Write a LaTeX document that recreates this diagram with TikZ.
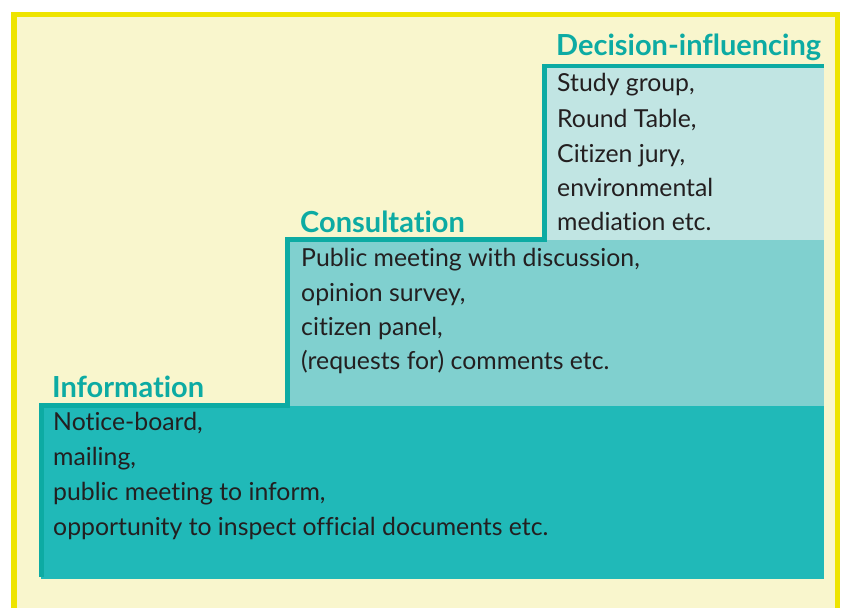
\documentclass[tikz,border=0pt]{standalone}
\usepackage{fontspec}
\setmainfont{Lato}[Ligatures=NoCommon]
\definecolor{paper}{HTML}{F9F6CD}
\definecolor{frameyellow}{HTML}{EEE400}
\definecolor{stepedge}{HTML}{0DABA3}
\definecolor{lightstep}{HTML}{C1E5E3}
\definecolor{midstep}{HTML}{80D0CF}
\definecolor{darkstep}{HTML}{20B9B8}
\definecolor{ink}{HTML}{231F20}
\tikzset{
  steptitle/.style={anchor=base west,inner sep=0pt,text=stepedge,font=\fontsize{29}{29}\selectfont\bfseries},
  stepline/.style={anchor=base west,inner sep=0pt,text=ink,font=\fontsize{24.8}{24.8}\selectfont}
}
\begin{document}
\begin{tikzpicture}[x=1pt,y=-1pt]
    \useasboundingbox (0,0) rectangle (842,607);
    \clip (0,0) rectangle (842,607);

    %% frame
    \fill[paper] (11,12) rectangle (840,640);
    \draw[frameyellow,line width=5.5pt] (13.75,14.75) rectangle (837.25,640);

    %% steps
    \fill[lightstep] (545,66) rectangle (824,240);
    \fill[midstep] (288,240) rectangle (824,406);
    \fill[darkstep] (41,406) rectangle (824,579);
    \draw[stepedge,line width=4.5pt]
      (41.5,577) -- (41.5,405.5) -- (287.5,405.5) -- (287.5,239.5)
      -- (544.5,239.5) -- (544.5,66) -- (824,66);

    %% titles
    \node[steptitle] (dectitle) at (556,56) {Decision-influencing};
    \node[steptitle] (contitle) at (300,232) {Consultation};
    \node[steptitle] (inftitle) at (52,397) {Information};

    %% decision-influencing
    \node[stepline] (dec1) at (557,92) {Study group,};
    \node[stepline] (dec2) at (557,127) {Round Table,};
    \node[stepline] (dec3) at (557,162) {Citizen jury,};
    \node[stepline] (dec4) at (557,196) {environmental};
    \node[stepline] (dec5) at (557,230) {mediation etc.};

    %% consultation
    \node[stepline] (con1) at (301,266) {Public meeting with discussion,};
    \node[stepline] (con2) at (301,301) {opinion survey,};
    \node[stepline] (con3) at (301,335) {citizen panel,};
    \node[stepline] (con4) at (301,369) {(requests for) comments etc.};

    %% information
    \node[stepline] (inf1) at (53,430) {Notice-board,};
    \node[stepline] (inf2) at (53,465) {mailing,};
    \node[stepline] (inf3) at (53,500) {public meeting to inform,};
    \node[stepline] (inf4) at (53,535) {opportunity to inspect official documents etc.};
  \end{tikzpicture}
\end{document}
